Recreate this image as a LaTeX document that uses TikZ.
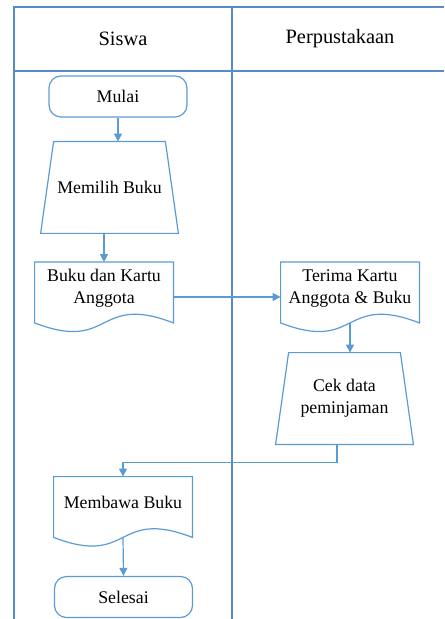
\documentclass[tikz,border=0pt]{standalone}
\usepackage{fontspec}
\setmainfont{Liberation Serif}
\usetikzlibrary{shapes.geometric,arrows.meta,positioning,calc}
\definecolor{lanecol}{HTML}{5A8AC6}
\definecolor{boxcol}{HTML}{5B9BD5}
\newcommand{\docshape}[1]{\draw[draw=boxcol,line width=0.6pt] (#1.north west) -- (#1.north east) -- (#1.south east) to[wave] (#1.south west) -- cycle;}
\newcommand{\manshape}[1]{\draw[draw=boxcol,line width=0.6pt] (#1.south west) -- ($(#1.north west)+(13,0)$) -- ($(#1.north east)+(-13,0)$) -- (#1.south east) -- cycle;}

\begin{document}
\begin{tikzpicture}[x=0.5pt,y=-0.5pt,>={Triangle[length=4pt,width=4pt]}]
\tikzstyle{lane}=[draw=lanecol,line width=0.6pt]
\tikzstyle{H}=[font=\fontsize{10.2}{12}\selectfont]
\tikzstyle{T}=[draw=boxcol,line width=0.6pt,rounded corners=6pt,minimum width=69pt,minimum height=20.5pt,font=\fontsize{8.9}{11}\selectfont]
\tikzstyle{M}=[minimum width=68.5pt,minimum height=45.5pt,inner sep=1pt,align=center,font=\fontsize{8.9}{11}\selectfont]
\tikzstyle{D}=[minimum width=69pt,minimum height=30pt,inner sep=0pt]
\tikzstyle{L}=[yshift=2.2pt,align=center,font=\fontsize{8.9}{11}\selectfont]
\tikzstyle{wave}=[to path={.. controls ($(\tikztostart)!0.56!(\tikztotarget)+(0,-30)$) and ($(\tikztostart)!0.44!(\tikztotarget)+(0,30)$) .. (\tikztotarget)}]
\tikzstyle{arr}=[->,draw=boxcol,line width=0.6pt]
\useasboundingbox (0,0) rectangle (444,619);
% swimlanes
\draw[lane] (14,619) -- (14,7) -- (444,7);
\draw[lane] (14,71) -- (444,71);
\draw[lane] (232,7) -- (232,619);
\node[H] (hsiswa) at (123,39) {Siswa};
\node[H] (hperpus) at (340,39) {Perpustakaan};
% siswa
\node[T] (mulai) at (118,96.5) {Mulai};
\node[M] (memilih) at (109.5,187.5) {Memilih Buku};
\manshape{memilih}
\node[D,label={[L]center:{Buku dan Kartu\\Anggota}}] (buku) at (104,292.5) {};
\docshape{buku}
% perpustakaan
\node[D,label={[L]center:{Terima Kartu\\Anggota \& Buku}}] (terima) at (350,292.5) {};
\docshape{terima}
\node[M] (cek) at (344.5,398.5) {Cek data\\peminjaman};
\manshape{cek}
% kembali ke siswa
\node[D,label={[L]center:{Membawa Buku}}] (membawa) at (123,507) {};
\docshape{membawa}
\node[T] (selesai) at (123.5,597) {Selesai};
% alur
\draw[arr] (mulai.south) -- (mulai.south |- memilih.north);
\draw[arr] (memilih.south -| buku.north) -- (buku.north);
\draw[arr] ($(buku.east)+(0,4.5)$) -- ($(terima.west)+(0,4.5)$);
\draw[arr] (terima.south) -- (terima.south |- cek.north);
\draw[arr] ($(cek.south)+(-7.5,0)$) -- ++(0,18) -| (membawa.north);
\draw[arr] (membawa.south) -- (selesai.north);
\end{tikzpicture}
\end{document}
